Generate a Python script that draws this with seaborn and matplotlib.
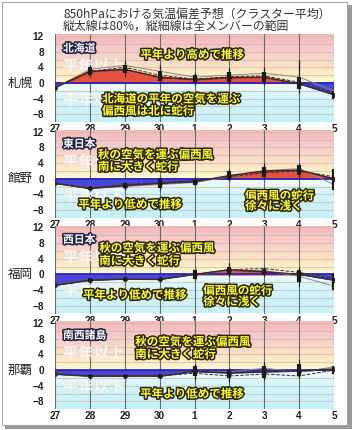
import numpy as np
import pandas as pd
import seaborn as sns
import matplotlib.pyplot as plt
import matplotlib.patheffects as pe
from matplotlib.colors import LinearSegmentedColormap
from matplotlib.patches import Rectangle

sns.set_style("white")
plt.rcParams['font.family'] = ['Noto Sans CJK JP', 'DejaVu Sans']

# data
days = ["27", "28", "29", "30", "1", "2", "3", "4", "5"]
cities = ["札幌", "館野", "福岡", "那覇"]
regions = ["北海道", "東日本", "西日本", "南西諸島"]

mean = [
    [-1.2, 3.0, 3.5, 1.5, 0.9, 1.4, 1.5, -0.2, -3.0],
    [-1.2, -2.5, -1.8, -1.2, -0.8, 0.8, 2.0, 2.2, 0.0],
    [-2.8, -1.5, -1.2, -1.3, 0.0, 1.2, 0.7, 0.0, -1.5],
    [-1.0, -1.5, -1.5, -1.5, -0.3, -0.7, -0.4, -0.2, 0.3],
]
member_a = [
    [-1.2, 3.5, 4.5, 3.0, 1.5, 2.0, 2.5, 1.5, -2.0],
    [-1.2, -2.5, -2.0, -1.5, -1.0, 0.5, 2.0, 2.6, -1.5],
    [-2.8, -1.5, -1.2, -1.3, 0.0, 1.0, 1.0, -0.5, -3.0],
    [-1.0, -1.5, -1.5, -1.5, -0.3, -0.5, 0.5, -0.5, 0.8],
]
member_b = [
    [-1.2, 3.0, 4.0, 2.0, 1.0, 1.6, 1.8, 0.2, -2.5],
    [-1.2, -2.5, -1.5, -1.0, -0.5, 0.5, 1.5, 2.0, 0.5],
    [-2.8, -1.5, -1.2, -1.3, 0.0, 1.2, 1.5, 0.5, -1.0],
    [-1.0, -1.5, -1.5, -1.5, -0.8, -1.5, -1.0, -1.5, 0.0],
]
nan = np.nan
thick_lo = [
    [nan, 2.0, 2.5, 0.5, 0.0, 0.3, 0.3, -1.5, -4.0],
    [nan, -3.0, -2.5, -2.5, -1.5, -0.3, 0.5, 1.0, -3.0],
    [nan, -2.0, -1.6, -1.8, -1.2, 0.0, 0.0, -2.0, -4.0],
    [nan, -1.8, -1.8, -1.9, -1.5, -2.0, -2.0, -1.5, -1.0],
]
thick_hi = [
    [nan, 4.0, 4.5, 3.0, 2.0, 2.8, 2.8, 1.5, -2.0],
    [nan, -2.0, -1.0, -0.2, 0.0, 2.0, 3.0, 3.5, 2.5],
    [nan, -1.0, -0.8, -0.8, 1.0, 2.0, 1.5, 1.0, 0.0],
    [nan, -1.2, -1.2, -1.1, 1.0, 0.0, 1.0, 1.5, 1.0],
]
thin_lo = [
    [nan, 1.5, 1.5, 0.0, -0.5, -0.3, -0.5, -2.5, -4.5],
    [nan, -3.2, -2.8, -3.0, -1.8, -0.5, 0.0, 0.0, -4.0],
    [nan, -2.2, -1.8, -2.0, -1.5, -0.5, -0.5, -3.0, -5.0],
    [nan, -2.0, -2.0, -2.0, -2.5, -3.0, -2.5, -2.0, -2.0],
]
thin_hi = [
    [nan, 4.5, 5.5, 4.5, 2.5, 3.8, 4.0, 6.0, -1.5],
    [nan, -1.8, -0.8, 0.5, 0.5, 2.5, 4.0, 4.0, 3.5],
    [nan, -0.8, -0.5, -0.5, 1.5, 3.0, 2.0, 2.0, 1.0],
    [nan, -1.0, -1.0, -1.0, 1.5, 0.5, 2.0, 2.5, 1.5],
]

# annotations: (text, x, y, ha)
notes = [
    [("平年より高めで推移", 3.93, 7.2, "center"),
     ("北海道の平年の空気を運ぶ", 1.35, -4.1, "left"),
     ("偏西風は北に蛇行", 1.35, -7.2, "left")],
    [("秋の空気を運ぶ偏西風", 1.23, 6.1, "left"),
     ("南に大きく蛇行", 1.23, 3.0, "left"),
     ("平年より低めで推移", 2.15, -6.6, "center"),
     ("偏西風の蛇行", 5.45, -4.4, "left"),
     ("徐々に浅く", 5.45, -7.0, "left")],
    [("秋の空気を運ぶ偏西風", 1.27, 6.7, "left"),
     ("南に大きく蛇行", 1.27, 3.4, "left"),
     ("平年より低めで推移", 0.8, -5.3, "left"),
     ("偏西風の蛇行", 4.25, -4.2, "left"),
     ("徐々に浅く", 4.25, -7.0, "left")],
    [("秋の空気を運ぶ偏西風", 2.3, 7.2, "left"),
     ("南に大きく蛇行", 2.3, 4.0, "left"),
     ("平年より低めで推移", 2.44, -6.1, "left")],
]

W, H = 354, 430
fig = plt.figure(figsize=(W / 100, H / 100), dpi=100)

# frame with shadow
fig.patches.append(Rectangle((5 / W, 1 / H), 347 / W, 424 / H, transform=fig.transFigure,
                             facecolor="#9a9a9a", edgecolor="none", zorder=-3))
fig.patches.append(Rectangle((2 / W, 5 / H), 345 / W, 423 / H, transform=fig.transFigure,
                             facecolor="white", edgecolor="#a8a8a8", linewidth=0.8, zorder=-2))

fig.text(63 / W, 1 - 14 / H, "850hPaにおける気温偏差予想（クラスター平均）",
         fontsize=8.6, color="#333333", va="center", ha="left")
fig.text(63 / W, 1 - 26.5 / H, "縦太線は80%，縦細線は全メンバーの範囲",
         fontsize=8.6, color="#333333", va="center", ha="left")

# background gradient colours
ymin, ymax = -10, 12.5
stops = [(-10, "#c6f1f8"), (-4, "#d2f5fa"), (-0.6, "#eefcfe"), (-0.01, "#f6fdff"),
         (0.0, "#fff8d6"), (2, "#fff0c4"), (4, "#fde2c4"), (8, "#f9cdcb"), (12.5, "#f5b9b9")]
bg_cmap = LinearSegmentedColormap.from_list(
    "bg", [((v - ymin) / (ymax - ymin), c) for v, c in stops])
grad = np.linspace(ymin, ymax, 400).reshape(-1, 1)

yellow = [pe.withStroke(linewidth=2.2, foreground="#2a2410")]
regfx = [pe.withStroke(linewidth=2.2, foreground="#20204a")]
ghost = [pe.withStroke(linewidth=1.0, foreground="#e2e2e2")]

x = np.arange(len(days))
left, width = 55 / W, 279 / W
for k in range(4):
    z = 83 + 95.7 * k
    bottom = 1 - (z + 39.1) / H
    ax = fig.add_axes([left, bottom, width, 88 / H])
    ax.imshow(grad, extent=[0, 8, ymin, ymax], aspect="auto", cmap=bg_cmap,
              origin="lower", zorder=0)
    for gy in np.arange(-10, 13, 2):
        ax.axhline(gy, color="#c9b8b0", lw=0.5, zorder=1)
    for gx in x:
        ax.axvline(gx, color="#6a6a6a", lw=0.8, zorder=1)

    # faint watermark labels
    ax.text(0.23, 4.3, "平年以上", fontsize=11, fontweight="bold", color="white",
            alpha=0.55, va="center", path_effects=ghost, zorder=2)
    ax.text(0.23, -4.3, "平年以下", fontsize=11, fontweight="bold", color="white",
            alpha=0.55, va="center", path_effects=ghost, zorder=2)

    m = np.array(mean[k])
    ax.fill_between(x, 0, m, where=m >= 0, interpolate=True, facecolor="#e4523e",
                    edgecolor="#b01818", lw=0.8, zorder=3)
    ax.fill_between(x, 0, m, where=m <= 0, interpolate=True, facecolor="#4a46d8",
                    edgecolor="#2a2a90", lw=0.8, zorder=3)
    ax.axhline(0, color="#2a2ac0", lw=1.3, zorder=3)

    df = pd.DataFrame({"x": x, "mean": m, "a": member_a[k], "b": member_b[k]})
    sns.lineplot(data=df, x="x", y="a", ax=ax, color="#8a8a8a", lw=0.7, zorder=4)
    sns.lineplot(data=df, x="x", y="b", ax=ax, color="#303030", lw=0.7,
                 linestyle="--", zorder=4)
    sns.lineplot(data=df, x="x", y="mean", ax=ax, color="#402828", lw=1.0,
                 marker="o", markersize=3.5, markeredgewidth=0, zorder=5)

    ax.vlines(x, thin_lo[k], thin_hi[k], color="#202020", lw=0.9, zorder=6)
    ax.vlines(x, thick_lo[k], thick_hi[k], color="#1a1a1a", lw=3.0, zorder=6)

    ax.text(0.23, 8.8, regions[k], fontsize=7.8, fontweight="bold", color="white",
            va="center", ha="left", path_effects=regfx, zorder=7)
    for txt, tx, ty, ha in notes[k]:
        ax.text(tx, ty, txt, fontsize=8.3, fontweight="bold", color="#ffff30",
                va="center", ha=ha, path_effects=yellow, zorder=7)

    ax.text(-0.125, 0, cities[k], transform=ax.get_yaxis_transform(),
            fontsize=9, color="#222222", ha="center", va="center")

    ax.set_xlim(0, 8)
    ax.set_ylim(ymin, ymax)
    ax.set_xticks(x)
    ax.set_xticklabels(days)
    ax.set_yticks([12, 8, 4, 0, -4, -8])
    ax.set_yticklabels(["12", "8", "4", "0", "\u22124", "\u22128"])
    for lab in ax.get_xticklabels() + ax.get_yticklabels():
        lab.set_family("Liberation Sans")
        lab.set_fontweight("bold")
        lab.set_fontsize(7.2)
        lab.set_color("#202020")
    ax.tick_params(axis="both", length=0)
    ax.tick_params(axis="x", pad=1.5)
    ax.tick_params(axis="y", pad=8)
    ax.set_xlabel("")
    ax.set_ylabel("")
    for s in ax.spines.values():
        s.set_visible(False)

fig.savefig("out.png", dpi=100)
